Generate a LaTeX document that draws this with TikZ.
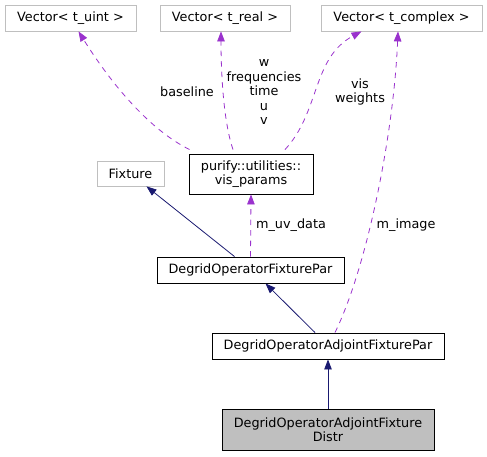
\documentclass[tikz,border=0pt]{standalone}
\usepackage{fontspec}
\setmainfont{DejaVu Sans}
\usetikzlibrary{arrows.meta}
\definecolor{edgepurple}{HTML}{9A32CD}
\definecolor{edgenavy}{HTML}{191970}
\definecolor{boxgray}{HTML}{BFBFBF}
\begin{document}
\begin{tikzpicture}[x=1pt,y=-1pt,font=\fontsize{12.8}{14.5}\selectfont,
	extbox/.style={draw=boxgray, fill=white, inner sep=0pt, line width=0.8pt, minimum height=26pt},
	classbox/.style={draw=black, fill=white, inner sep=0pt, line width=0.9pt, minimum height=26pt, align=center},
	usage/.style={edgepurple, line width=0.8pt, dash pattern=on 5.5pt off 5pt, -{Triangle[length=10pt,width=7.5pt]}},
	inherit/.style={edgenavy, line width=0.8pt, -{Triangle[length=10pt,width=7.5pt]}},
	lbl/.style={align=center, inner sep=0pt}]
	\useasboundingbox (0,0) rectangle (487,456);
	\node[extbox, minimum width=131pt] (vuint) at (70.5,18) {Vector< t\_uint >};
	\node[extbox, minimum width=130pt] (vreal) at (225,18) {Vector< t\_real >};
	\node[extbox, minimum width=161pt] (vcomplex) at (401.5,18) {Vector< t\_complex >};
	\node[classbox, minimum width=124pt, minimum height=40pt] (visparams) at (251,174) {purify::utilities::\\vis\_params};
	\node[extbox, minimum width=67pt, minimum height=25pt] (fixture) at (130.5,173.5) {Fixture};
	\node[classbox, minimum width=187pt] (fixpar) at (250.5,270) {DegridOperatorFixturePar};
	\node[classbox, minimum width=232pt] (adjpar) at (328,346) {DegridOperatorAdjointFixturePar};
	\node[classbox, fill=boxgray, minimum width=212pt, minimum height=41pt] (adjdistr) at (328,429.5) {DegridOperatorAdjointFixture\\Distr};
	\draw[usage] ([xshift=1pt,yshift=4pt]visparams.north west) .. controls (150,130) and (112,85) .. ([xshift=8pt]vuint.south);
	\draw[usage] ([xshift=-18pt,yshift=4pt]visparams.north) .. controls (223,120) and (221,70) .. ([xshift=-4pt]vreal.south);
	\draw[usage] ([xshift=34pt,yshift=4pt]visparams.north) .. controls (320,112) and (312,58) .. ([xshift=-40pt]vcomplex.south);
	\draw[usage] ([xshift=7pt]adjpar.north) .. controls (368,265) and (394,130) .. ([xshift=-3.5pt]vcomplex.south);
	\draw[usage] (fixpar.north) -- (visparams.south);
	\draw[inherit] ([xshift=-16pt]fixpar.north) -- ([xshift=16pt]fixture.south);
	\draw[inherit] ([xshift=-13pt]adjpar.north) -- ([xshift=15pt]fixpar.south);
	\draw[inherit] (adjdistr.north) -- (adjpar.south);
	\node[lbl] (lblbaseline) at (187,92) {baseline};
	\node[lbl] (lblfreq) at (264,92) {w\\frequencies\\time\\u\\v};
	\node[lbl] (lblvis) at (360,92) {vis\\weights};
	\node[lbl] (lbluv) at (291,225) {m\_uv\_data};
	\node[lbl] (lblimage) at (406,225) {m\_image};
\end{tikzpicture}
\end{document}
